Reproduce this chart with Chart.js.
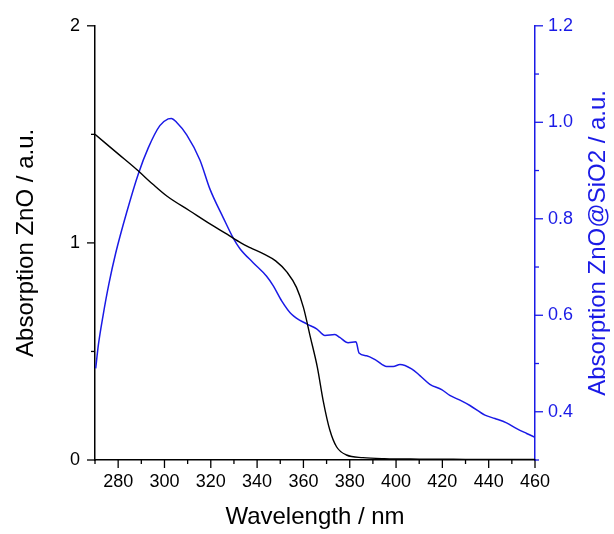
<!DOCTYPE html>
<html>
<head>
<meta charset="utf-8">
<script src="https://cdn.jsdelivr.net/npm/chart.js@4/dist/chart.umd.min.js"></script>
<style>
html,body{margin:0;padding:0;background:#fff;}
canvas{display:block;}
</style>
</head>
<body>
<canvas id="c" width="614" height="534"></canvas>
<script>
// ---- data ----
const znoWavelength = [270, 275, 280, 288, 295, 301, 311, 320, 327, 333, 337, 343, 348, 353, 357, 360, 363, 366, 368.5, 371.4, 374.3, 378.6, 385.7, 395, 410, 430, 460];
const znoAbsorption = [1.50, 1.455, 1.41, 1.338, 1.27, 1.216, 1.147, 1.085, 1.04, 1.0, 0.978, 0.948, 0.917, 0.864, 0.795, 0.703, 0.566, 0.428, 0.275, 0.138, 0.061, 0.023, 0.011, 0.006, 0.004, 0.003, 0.002];

const sioWavelength = [270.3, 271.5, 273.5, 276, 279, 283.6, 288.7, 293, 298, 301.6, 303, 305.2, 309.6, 315.3, 319.6, 325.4, 329.7, 332.6, 338.3, 344.1, 347, 350.6, 354.9, 361.4, 365.7, 369.3, 373.6, 375.7, 379.3, 382.7, 384, 387.3, 391.6, 395.9, 398.8, 401.7, 406.7, 410.3, 414.6, 419.7, 423.2, 427.6, 431.9, 438.4, 442.7, 447.7, 452.1, 456.4, 460];
const sioAbsorption = [0.49, 0.54, 0.60, 0.665, 0.73, 0.812, 0.893, 0.947, 0.993, 1.007, 1.008, 1.0, 0.974, 0.922, 0.862, 0.802, 0.76, 0.738, 0.709, 0.681, 0.661, 0.630, 0.602, 0.582, 0.572, 0.558, 0.560, 0.554, 0.543, 0.545, 0.522, 0.516, 0.506, 0.494, 0.494, 0.498, 0.489, 0.475, 0.457, 0.446, 0.434, 0.424, 0.413, 0.393, 0.386, 0.377, 0.365, 0.355, 0.347];

const xTitle = 'Wavelength / nm';
const yTitle = 'Absorption ZnO / a.u.';
const y2Title = 'Absorption ZnO@SiO2 / a.u.';

const BLUE = '#1a1ae6';
const FONT = "'Liberation Sans', Arial, sans-serif";

const toXY = (xs, ys) => xs.map((v, i) => ({x: v, y: ys[i]}));

const tickMarks = {
  id: 'tickMarks',
  afterDraw(chart) {
    const ctx = chart.ctx;
    ctx.save();
    ctx.lineWidth = 1.3;
    const draw = (scale, color, dir) => {
      ctx.strokeStyle = color;
      scale.ticks.forEach(t => {
        const major = t.label !== '' && t.label !== undefined;
        const len = major ? 8 : 4;
        const p = scale.getPixelForValue(t.value);
        ctx.beginPath();
        if (dir === 'down') { ctx.moveTo(p, scale.top); ctx.lineTo(p, scale.top + len); }
        else if (dir === 'left') { ctx.moveTo(scale.right, p); ctx.lineTo(scale.right - len, p); }
        else { ctx.moveTo(scale.left, p); ctx.lineTo(scale.left + len, p); }
        ctx.stroke();
      });
    };
    draw(chart.scales.x, '#000', 'down');
    draw(chart.scales.y, '#000', 'left');
    draw(chart.scales.y2, BLUE, 'right');

    // right axis title, reading bottom-to-top
    const y2 = chart.scales.y2;
    ctx.translate(y2.right - 16, (y2.top + y2.bottom) / 2);
    ctx.rotate(-Math.PI / 2);
    ctx.fillStyle = BLUE;
    ctx.font = "24px " + FONT;
    ctx.textAlign = 'center';
    ctx.textBaseline = 'middle';
    ctx.fillText(y2Title, 0, 0);
    ctx.restore();
  }
};

new Chart(document.getElementById('c'), {
  type: 'line',
  data: {
    datasets: [
      {
        label: 'ZnO',
        data: toXY(znoWavelength, znoAbsorption),
        borderColor: '#000',
        borderWidth: 1.4,
        pointRadius: 0,
        cubicInterpolationMode: 'monotone',
        yAxisID: 'y'
      },
      {
        label: 'ZnO@SiO2',
        data: toXY(sioWavelength, sioAbsorption),
        borderColor: BLUE,
        borderWidth: 1.5,
        pointRadius: 0,
        cubicInterpolationMode: 'monotone',
        yAxisID: 'y2'
      }
    ]
  },
  options: {
    responsive: false,
    animation: false,
    devicePixelRatio: 1,
    layout: {padding: {top: 24, left: 0, right: 0, bottom: 0}},
    plugins: {legend: {display: false}, tooltip: {enabled: false}},
    scales: {
      x: {
        type: 'linear',
        position: 'bottom',
        min: 270, max: 460,
        grid: {display: false, drawTicks: false},
        border: {display: true, color: '#000', width: 1.5},
        ticks: {
          stepSize: 10,
          autoSkip: false,
          maxRotation: 0,
          padding: 11,
          color: '#000',
          font: {family: FONT, size: 18},
          callback: v => (Math.round(v) % 20 === 0 ? String(Math.round(v)) : '')
        },
        title: {display: true, text: xTitle, color: '#000', font: {family: FONT, size: 24}, padding: {top: 0, bottom: 2}},
        afterFit: s => { s.height = 74; }
      },
      y: {
        type: 'linear',
        position: 'left',
        min: 0, max: 2,
        grid: {display: false, drawTicks: false},
        border: {display: true, color: '#000', width: 1.5},
        ticks: {
          stepSize: 0.5,
          autoSkip: false,
          padding: 15,
          color: '#000',
          font: {family: FONT, size: 18},
          callback: v => (Math.abs(v - Math.round(v)) < 1e-6 ? String(Math.round(v)) : '')
        },
        title: {display: true, text: yTitle, color: '#000', font: {family: FONT, size: 24}, padding: {top: 12, bottom: 0}},
        afterFit: s => { s.width = 95; }
      },
      y2: {
        type: 'linear',
        position: 'right',
        min: 0.3, max: 1.2,
        grid: {display: false, drawTicks: false},
        border: {display: true, color: BLUE, width: 1.5},
        ticks: {
          stepSize: 0.1,
          autoSkip: false,
          padding: 13,
          color: BLUE,
          font: {family: FONT, size: 18},
          callback: v => (Math.round(v * 10) % 2 === 0 ? v.toFixed(1) : '')
        },
        title: {display: false},
        afterFit: s => { s.width = 79; }
      }
    }
  },
  plugins: [tickMarks]
});
</script>
</body>
</html>
